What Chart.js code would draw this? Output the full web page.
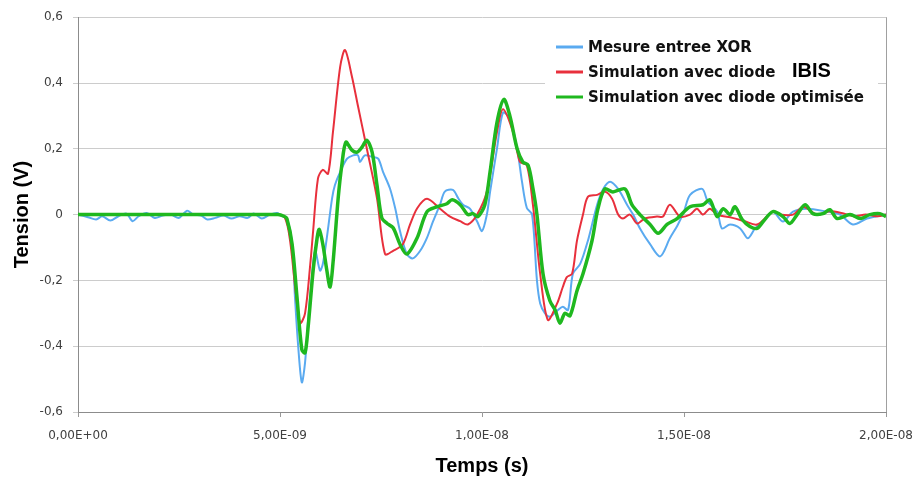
<!DOCTYPE html>
<html>
<head>
<meta charset="utf-8">
<script src="https://cdn.jsdelivr.net/npm/chart.js@4.4.1/dist/chart.umd.min.js"></script>
<style>
html,body{margin:0;padding:0;background:#fff;}
#wrap{position:relative;width:917px;height:478px;}
</style>
</head>
<body>
<div id="wrap"><canvas id="c" width="917" height="478"></canvas></div>
<script>
// Time in ns (axis labels show seconds), values in volts
const seriesLabels = ["Mesure entree XOR", "Simulation avec diode", "Simulation avec diode optimisée"];
const annotationText = "IBIS";

const tBlue = [0,0.25,0.45,0.6,0.8,1.0,1.2,1.35,1.5,1.7,1.9,2.1,2.3,2.5,2.7,2.85,3.05,3.2,3.4,3.6,3.8,4.0,4.2,4.35,4.55,4.75,4.93,5.05,5.17,5.3,5.37,5.45,5.54,5.62,5.69,5.79,5.87,5.99,6.06,6.16,6.29,6.36,6.49,6.66,6.81,6.93,6.98,7.1,7.3,7.43,7.55,7.72,7.85,7.97,8.14,8.29,8.47,8.64,8.79,8.96,9.08,9.28,9.41,9.53,9.7,9.88,10.0,10.12,10.2,10.37,10.52,10.69,10.87,10.99,11.11,11.24,11.36,11.44,11.56,11.68,11.88,12.0,12.13,12.25,12.43,12.62,12.85,13.0,13.17,13.37,13.59,13.74,13.91,14.16,14.41,14.65,14.85,15.0,15.15,15.45,15.59,15.82,15.94,16.14,16.39,16.58,16.76,16.96,17.2,17.45,17.7,18.04,18.54,18.86,19.18,19.53,20];
const vBlue = [0,-0.008,-0.015,-0.005,-0.018,-0.005,0.003,-0.02,-0.005,0.005,-0.01,-0.003,0,-0.01,0.012,0,-0.003,-0.015,-0.01,-0.003,-0.012,-0.005,-0.01,0.003,-0.012,0,0.005,-0.005,-0.012,-0.09,-0.25,-0.40,-0.51,-0.45,-0.33,-0.19,-0.11,-0.17,-0.15,-0.07,0.05,0.09,0.13,0.17,0.18,0.18,0.16,0.18,0.175,0.17,0.13,0.08,0.02,-0.05,-0.12,-0.133,-0.11,-0.07,-0.02,0.03,0.07,0.075,0.05,0.03,0.018,-0.021,-0.05,0,0.069,0.20,0.31,0.29,0.20,0.10,0.02,0,-0.20,-0.27,-0.30,-0.31,-0.29,-0.28,-0.29,-0.18,-0.15,-0.08,0.03,0.078,0.10,0.078,0.03,0,-0.042,-0.09,-0.127,-0.072,-0.03,0.01,0.06,0.078,0.039,0.009,-0.042,-0.03,-0.042,-0.072,-0.042,-0.021,0.009,-0.021,0.009,0.018,0.009,0,-0.03,-0.012,0];

const tRed = [0,4.9,5.12,5.25,5.4,5.5,5.62,5.75,5.82,5.94,6.06,6.19,6.31,6.49,6.61,6.78,6.93,7.15,7.4,7.6,7.8,8.04,8.22,8.4,8.64,8.96,9.21,9.46,9.65,9.88,10.12,10.37,10.52,10.77,10.94,11.11,11.26,11.44,11.63,11.86,12.0,12.1,12.23,12.35,12.5,12.62,12.85,13.04,13.22,13.37,13.49,13.66,13.84,14.03,14.33,14.48,14.65,14.9,15.15,15.32,15.47,15.64,15.82,16.2,16.5,16.81,17.2,17.38,17.7,17.95,18.29,18.6,18.9,19.2,19.5,19.8,20];
const vRed = [0,0,-0.01,-0.08,-0.25,-0.33,-0.30,-0.15,-0.05,0.11,0.136,0.124,0.25,0.45,0.50,0.42,0.33,0.20,0.05,-0.12,-0.11,-0.09,-0.03,0.02,0.048,0.018,-0.006,-0.02,-0.03,0,0.07,0.25,0.32,0.25,0.16,0.15,0.03,-0.18,-0.32,-0.27,-0.22,-0.19,-0.18,-0.08,0,0.054,0.06,0.07,0.048,0,-0.012,0,-0.027,-0.012,-0.006,-0.006,0.03,-0.006,0,0.018,0,0.018,0,-0.01,-0.02,-0.03,0.009,0,0,0.024,0,0.01,0.005,-0.005,0,-0.005,0];

const tGreen = [0,4.95,5.1,5.17,5.3,5.42,5.54,5.62,5.69,5.82,5.92,5.97,6.06,6.16,6.24,6.31,6.44,6.53,6.63,6.78,6.91,7.03,7.15,7.28,7.4,7.52,7.65,7.8,7.97,8.14,8.39,8.64,8.89,9.13,9.26,9.46,9.65,9.78,9.9,10.07,10.2,10.37,10.54,10.69,10.87,11.01,11.14,11.26,11.36,11.51,11.68,11.81,11.93,12.05,12.18,12.35,12.5,12.72,12.87,13.04,13.24,13.54,13.71,13.91,14.16,14.36,14.58,14.83,15.15,15.47,15.64,15.82,15.97,16.14,16.26,16.44,16.63,16.81,16.96,17.2,17.45,17.62,17.8,18.0,18.19,18.44,18.61,18.79,19.11,19.36,19.6,19.85,20];
const vGreen = [0,0,-0.005,-0.012,-0.09,-0.25,-0.41,-0.42,-0.35,-0.17,-0.07,-0.045,-0.09,-0.17,-0.22,-0.15,0.05,0.15,0.22,0.196,0.19,0.205,0.226,0.19,0.09,-0.01,-0.027,-0.04,-0.09,-0.12,-0.072,0.009,0.024,0.033,0.045,0.03,0,0.003,-0.006,0.03,0.13,0.28,0.35,0.30,0.20,0.16,0.15,0.08,0,-0.18,-0.262,-0.29,-0.33,-0.30,-0.307,-0.232,-0.18,-0.081,0.018,0.078,0.069,0.078,0.03,0,-0.03,-0.057,-0.03,-0.012,0.024,0.03,0.045,-0.006,0.018,0,0.024,-0.015,-0.036,-0.042,-0.021,0.009,-0.006,-0.027,0,0.03,0.003,0.003,0.015,-0.012,0,-0.012,0,0.003,-0.006];

const xTickValues = [0,5,10,15,20];
const xTickLabels = ["0,00E+00","5,00E-09","1,00E-08","1,50E-08","2,00E-08"];
const yTickLabels = ["-0,6","-0,4","-0,2","0","0,2","0,4","0,6"];
const xTitle = "Temps (s)";
const yTitle = "Tension (V)";

const colors = ["#5aaaf0", "#e8303c", "#1fb81f"];
const widths = [2, 2, 3.5];

function pts(t, v){ return t.map((x,i)=>({x:x, y:v[i]})); }

const decor = {
  id:'decor',
  beforeDraw(chart){
    const ctx = chart.ctx;
    ctx.save();
    ctx.fillStyle = '#ffffff';
    ctx.fillRect(0,0,chart.width,chart.height);
    ctx.restore();
  },
  beforeDatasetsDraw(chart){
    const ctx = chart.ctx, a = chart.chartArea;
    ctx.save();
    ctx.fillStyle = '#ffffff';
    ctx.fillRect(545, 29, 333, 84);
    ctx.strokeStyle = '#a0a0a0';
    ctx.lineWidth = 1;
    ctx.beginPath();
    ctx.moveTo(Math.round(a.right)+0.5, a.top);
    ctx.lineTo(Math.round(a.right)+0.5, a.bottom);
    ctx.stroke();
    ctx.restore();
  },
  afterDatasetsDraw(chart){
    const ctx = chart.ctx;
    ctx.save();
    const rows = [47, 72, 97];
    ctx.font = 'bold 15px "DejaVu Sans", Verdana, sans-serif';
    ctx.textBaseline = 'middle';
    ctx.textAlign = 'left';
    for (let i=0;i<3;i++){
      ctx.strokeStyle = colors[i];
      ctx.lineWidth = 3;
      ctx.beginPath();
      ctx.moveTo(556, rows[i]);
      ctx.lineTo(583, rows[i]);
      ctx.stroke();
      ctx.fillStyle = '#111111';
      ctx.fillText(seriesLabels[i], 588, rows[i]+1);
    }
    ctx.font = 'bold 20px "Liberation Sans", Arial, sans-serif';
    ctx.fillStyle = '#000000';
    ctx.fillText(annotationText, 792, 71);
    ctx.restore();
  }
};

new Chart(document.getElementById('c'), {
  type: 'line',
  data: {
    datasets: [
      {label: seriesLabels[0], data: pts(tBlue,vBlue), borderColor: colors[0], borderWidth: widths[0], pointRadius:0, tension:0.3, order:3, fill:false},
      {label: seriesLabels[1], data: pts(tRed,vRed), borderColor: colors[1], borderWidth: widths[1], pointRadius:0, tension:0.3, order:2, fill:false},
      {label: seriesLabels[2], data: pts(tGreen,vGreen), borderColor: colors[2], borderWidth: widths[2], pointRadius:0, tension:0.3, order:1, fill:false}
    ]
  },
  options: {
    responsive: false,
    animation: false,
    layout: {padding: {left:0, right:31, top:14, bottom:0}},
    plugins: {legend:{display:false}, tooltip:{enabled:false}},
    scales: {
      x: {
        type: 'linear', min: 0, max: 20,
        afterBuildTicks: s => { s.ticks = xTickValues.map(v=>({value:v})); },
        afterFit: s => { s.height = 66; s.paddingLeft = 0; s.paddingRight = 0; },
        ticks: {
          autoSkip:false, maxRotation:0, padding: 12, color:'#404040',
          font:{family:'"DejaVu Sans", Verdana, sans-serif', size:12},
          callback: (v) => xTickLabels[xTickValues.indexOf(v)]
        },
        grid: {drawOnChartArea:false, drawTicks:true, tickLength:5, color:'#999999'},
        border: {color:'#8c8c8c', width:1},
        title: {display:true, text:xTitle, color:'#000', padding:{top:0,bottom:0},
                font:{family:'"Liberation Sans", Arial, sans-serif', size:20, weight:'bold'}}
      },
      y: {
        min: -0.6, max: 0.6,
        ticks: {
          stepSize: 0.2, padding: 10, color:'#404040',
          font:{family:'"DejaVu Sans", Verdana, sans-serif', size:12},
          callback: (v, i) => yTickLabels[i]
        },
        afterFit: s => { s.width = 78; },
        grid: {color:'#cccccc', tickLength:5, drawTicks:true},
        border: {color:'#8c8c8c', width:1},
        title: {display:true, text:yTitle, color:'#000', padding:{top:10,bottom:0},
                font:{family:'"Liberation Sans", Arial, sans-serif', size:20, weight:'bold'}}
      }
    }
  },
  plugins: [decor]
});
</script>
</body>
</html>
